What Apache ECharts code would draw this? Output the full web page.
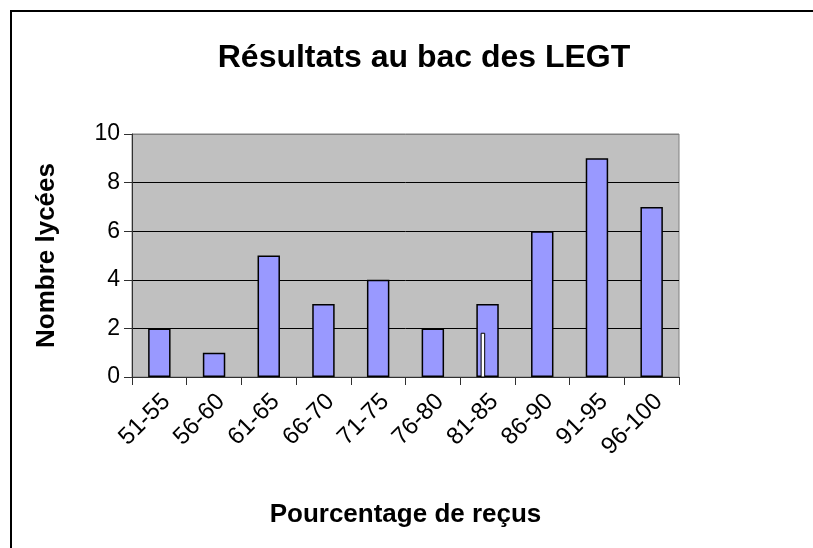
<!DOCTYPE html>
<html>
<head>
<meta charset="utf-8">
<script src="https://cdn.jsdelivr.net/npm/echarts@6/dist/echarts.min.js"></script>
<style>
html,body{margin:0;padding:0;background:#fff;}
#c{width:813px;height:548px;}
</style>
</head>
<body>
<div id="c"></div>
<script>
const categories = ['51-55','56-60','61-65','66-70','71-75','76-80','81-85','86-90','91-95','96-100'];
const counts = [2,1,5,3,4,2,3,6,9,7];
const markerValues = [null,null,null,null,null,null,1.8,null,null,null];
const yTicks = {min:0, max:10, interval:2};

const chart = echarts.init(document.getElementById('c'));
const FONT = '"Liberation Sans", Arial, sans-serif';
chart.setOption({
  animation:false,
  backgroundColor:'#fff',
  title:{
    text:'Résultats au bac des LEGT',
    left:419, top:37, textAlign:'center',
    textStyle:{fontFamily:FONT, fontWeight:'bold', fontSize:32, color:'#000'}
  },
  graphic:[{
    type:'rect', shape:{x:11, y:11, width:1000, height:1000},
    style:{fill:'none', stroke:'#000', lineWidth:2}, silent:true, z:-1
  }],
  grid:{left:132, right:134, top:134, bottom:171, show:true,
    backgroundColor:'#C0C0C0', borderColor:'#808080', borderWidth:1},
  xAxis:{
    type:'category', data:categories,
    name:'Pourcentage de reçus', nameLocation:'middle', nameGap:125,
    nameTextStyle:{fontFamily:FONT, fontWeight:'bold', fontSize:26, color:'#000'},
    axisLine:{lineStyle:{color:'#303030', width:1}},
    axisTick:{show:true, length:8, lineStyle:{color:'#303030'}},
    axisLabel:{rotate:45, fontFamily:FONT, fontSize:24, color:'#000', margin:28, padding:[0,-10,0,0], interval:0},
    splitLine:{show:false}
  },
  yAxis:{
    type:'value', min:yTicks.min, max:yTicks.max, interval:yTicks.interval,
    name:'Nombre lycées', nameLocation:'middle', nameGap:72,
    nameTextStyle:{fontFamily:FONT, fontWeight:'bold', fontSize:26, color:'#000'},
    axisLine:{show:true, lineStyle:{color:'#303030', width:1}},
    axisTick:{show:true, length:8, lineStyle:{color:'#303030'}},
    axisLabel:{fontFamily:FONT, fontSize:23, color:'#000', margin:12},
    splitLine:{show:true, lineStyle:{color:['#000','#000','#000','#000','#000','#808080'], width:1}}
  },
  series:[{
    type:'bar', data:counts, barWidth:'41%',
    itemStyle:{color:'#9999FF', borderColor:'#000', borderWidth:1.5}
  },{
    type:'custom', data:markerValues.map((v,i)=>[i,v]),
    renderItem:function(params, api){
      const v = api.value(1);
      if (v === null || v === undefined || isNaN(v)) return;
      const idx = api.value(0);
      const top = api.coord([idx, v]);
      const base = api.coord([idx, 0]);
      const band = api.size([1,0])[0];
      const w = band*0.065;
      const cx = top[0] - band*0.085;
      return {type:'rect', shape:{x:cx - w/2, y:top[1], width:w, height:base[1]-top[1]},
        style:{fill:'#fff', stroke:'#000', lineWidth:1}};
    },
    z:5
  }]
});
</script>
</body>
</html>
